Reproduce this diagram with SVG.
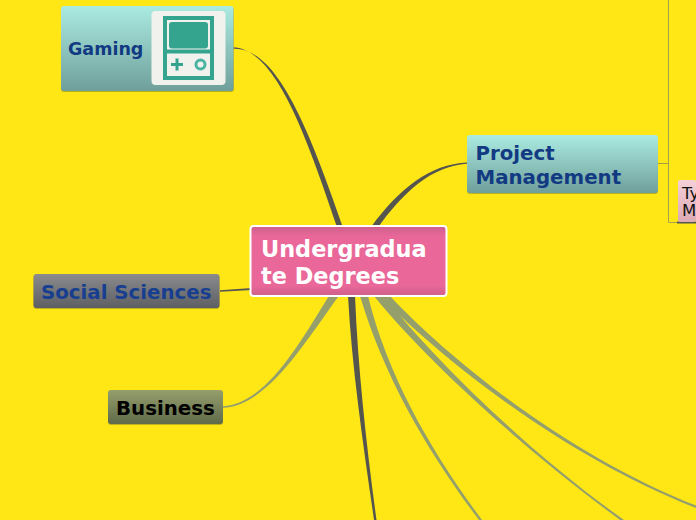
<svg xmlns="http://www.w3.org/2000/svg" width="696" height="520" viewBox="0 0 696 520">
<defs>
<linearGradient id="teal" x1="0" y1="0" x2="0" y2="1"><stop offset="0" stop-color="#abebe1"/><stop offset="1" stop-color="#6f9f9b"/></linearGradient>
<linearGradient id="grey" x1="0" y1="0" x2="0" y2="1"><stop offset="0" stop-color="#8b8b8e"/><stop offset="1" stop-color="#5d5f62"/></linearGradient>
<linearGradient id="olive" x1="0" y1="0" x2="0" y2="1"><stop offset="0" stop-color="#959f6c"/><stop offset="1" stop-color="#5f6a4a"/></linearGradient>
<linearGradient id="pink" x1="0" y1="0" x2="0" y2="1"><stop offset="0" stop-color="#cd5f8a"/><stop offset="0.15" stop-color="#e96899"/><stop offset="0.85" stop-color="#e96899"/><stop offset="1" stop-color="#cd5f8a"/></linearGradient>
<linearGradient id="rose" x1="0" y1="0" x2="0" y2="1"><stop offset="0" stop-color="#f5d0d8"/><stop offset="1" stop-color="#dcaab4"/></linearGradient>
</defs>
<style>
.t{font-family:"DejaVu Sans",sans-serif;font-weight:700}
.dk{fill:#555550}
.ol{fill:#949f6c}
.sh{fill:#a09a20;opacity:.7}
</style>
<rect width="696" height="520" fill="#ffe716"/>
<g id="connectors">
<path class="dk" d="M233 47.200C276 49 306 135 338 230L344 230C310 133 278 46.500 233 48.800Z"/>
<path class="dk" d="M467 162.500C430 164 399 189 371 227L377 229C403 192 432 166 467 163.800Z"/>
<path class="dk" d="M220 290.300L252 288L252 290L220 291.700Z"/>
<path class="ol" d="M223 406.300C265 404 299 345 330 294L338 297C302 347 266 406 223 407.700Z"/>
<path class="dk" d="M348 296C352 370 364 450 374 520L376.500 520C367 450 358 370 355 296Z"/>
<path class="ol" d="M360 296C385 380 430 455 479 520L482 520C433 454 388 378 368 296Z"/>
<path class="ol" d="M374 296C431 366 528 452 620 520L624 520C530 453 436 362 384 296Z"/>
<path class="ol" d="M380 296C448 365 568 458 696 508L696 505.500C570 456 452 362 390 296Z"/>
<path fill="#a49f3c" d="M658 163h11v1h-11Z"/>
<path d="M668.500 0V222.500H678" fill="none" stroke="#a8a24a" stroke-width="1"/>
<path d="M677 222.500H696" fill="none" stroke="#555550" stroke-width="2"/>
</g>
<g id="node-gaming">
<rect x="61" y="7" width="173" height="85" rx="3" class="sh"/>
<rect x="61" y="6" width="172.500" height="85" rx="3" fill="url(#teal)"/>
<text x="68" y="55" class="t" font-size="17.500" fill="#123a82">Gaming</text>
<rect x="151.500" y="11" width="74" height="74" rx="4" fill="#f1f1ee"/>
<rect x="163" y="16" width="51" height="64" fill="#35a48f"/>
<rect x="167" y="20" width="43" height="29.500" fill="#f1f1ee"/>
<rect x="169" y="22" width="39" height="26.500" rx="3" fill="#35a48f"/>
<rect x="167" y="53.500" width="43" height="22.500" fill="#f1f1ee"/>
<path d="M171 64.500h12M177 58.500v12" stroke="#35a48f" stroke-width="3" fill="none"/>
<circle cx="200.500" cy="64.500" r="4.500" fill="none" stroke="#4ab5a2" stroke-width="3"/>
</g>
<g id="node-project-management">
<rect x="467" y="136" width="191" height="58" rx="3" class="sh"/>
<rect x="467" y="135" width="191" height="58" rx="3" fill="url(#teal)"/>
<text class="t" font-size="19.800" fill="#123a82"><tspan x="475.500" y="160">Project</tspan><tspan x="475.500" y="184">Management</tspan></text>
</g>
<g id="node-types">
<rect x="678" y="180" width="18" height="42" rx="2" fill="url(#rose)"/>
<text font-family="'DejaVu Sans',sans-serif" font-size="16.500" fill="#111"><tspan x="682" y="199">Ty</tspan><tspan x="682" y="216">M</tspan></text>
</g>
<g id="node-undergraduate-degrees">
<rect x="250.500" y="226" width="196" height="70" rx="3" fill="url(#pink)" stroke="#fff" stroke-width="2"/>
<text class="t" font-size="22.400" fill="#fff"><tspan x="261" y="256.500">Undergradua</tspan><tspan x="261" y="283.500">te Degrees</tspan></text>
</g>
<g id="node-social-sciences">
<rect x="33.500" y="275" width="186" height="34" rx="3" class="sh"/>
<rect x="33.500" y="274" width="186" height="34" rx="3" fill="url(#grey)"/>
<text x="41" y="298.500" class="t" font-size="19.800" fill="#183f8f">Social Sciences</text>
</g>
<g id="node-business">
<rect x="108" y="391" width="115" height="34" rx="3" class="sh"/>
<rect x="108" y="390" width="115" height="34" rx="3" fill="url(#olive)"/>
<text x="116" y="414.500" class="t" font-size="19.800" fill="#000">Business</text>
</g>
</svg>
